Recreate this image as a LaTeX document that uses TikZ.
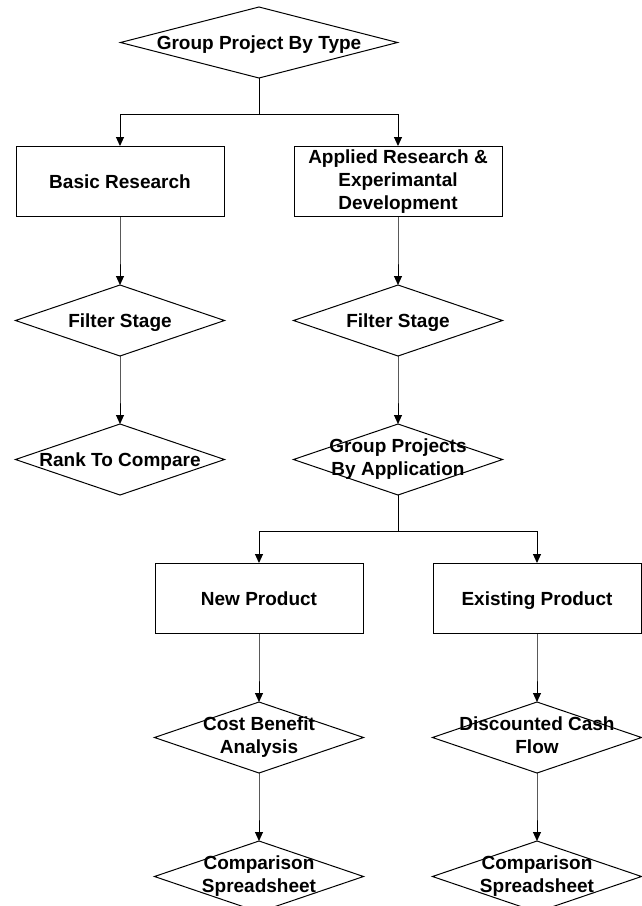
\documentclass[tikz,border=0pt]{standalone}
\usepackage{fontspec}
\setmainfont{Liberation Sans}
\usetikzlibrary{arrows.meta}

\newcommand{\nodestrut}{\rule[-4.5pt]{0pt}{22.5pt}}
\tikzset{
  process/.style={rectangle,draw,minimum width=208pt,minimum height=70pt,inner sep=0pt,align=center,
    execute at begin node=\nodestrut,execute at end node=\nodestrut},
  decision/.style={minimum width=208pt,minimum height=70pt,inner sep=0pt,align=center,
    execute at begin node=\nodestrut,execute at end node=\nodestrut,
    append after command={\pgfextra{\draw (\tikzlastnode.north) -- (\tikzlastnode.east)
      -- (\tikzlastnode.south) -- (\tikzlastnode.west) -- cycle;}}}
}

\begin{document}
\begin{tikzpicture}[line width=1pt,
  font=\fontsize{19}{23}\selectfont\bfseries,
  level distance=139pt,sibling distance=278pt,
  edge from parent/.style={draw,-{Triangle[width=8pt,length=9pt]}},
  edge from parent path={(\tikzparentnode.south) -- ++(0,-36pt) -| (\tikzchildnode.north)}]
\useasboundingbox (0,0) rectangle (642pt,-906pt);
\node[decision,minimum width=276pt](type) at (259pt,-42.5pt){Group Project By Type}
  child{
	node[process](basic){Basic Research}
	child{
	  node[decision](filterA){Filter Stage}
	  child{
	    node[decision](rank){Rank To Compare}
	  }
	}
  }
  child{
  node[process](applied){Applied Research \&\\ Experimantal\\ Development}
  child{
   node[decision](filterB){Filter Stage}
   child{
    node[decision](group){Group Projects\\ By Application}
    child{
     node[process](new){New Product}
     child{
      node[decision](cost){Cost Benefit\\ Analysis}
      child{
       node[decision](compA){Comparison\\ Spreadsheet}
      }
     }
    }
    child{
     node[process](existing){Existing Product}
     child{
      node[decision](cash){Discounted Cash\\ Flow}
      child{
       node[decision](compB){Comparison\\ Spreadsheet}
      }
     }
    }
   }
  }
  };
\end{tikzpicture}
\end{document}
